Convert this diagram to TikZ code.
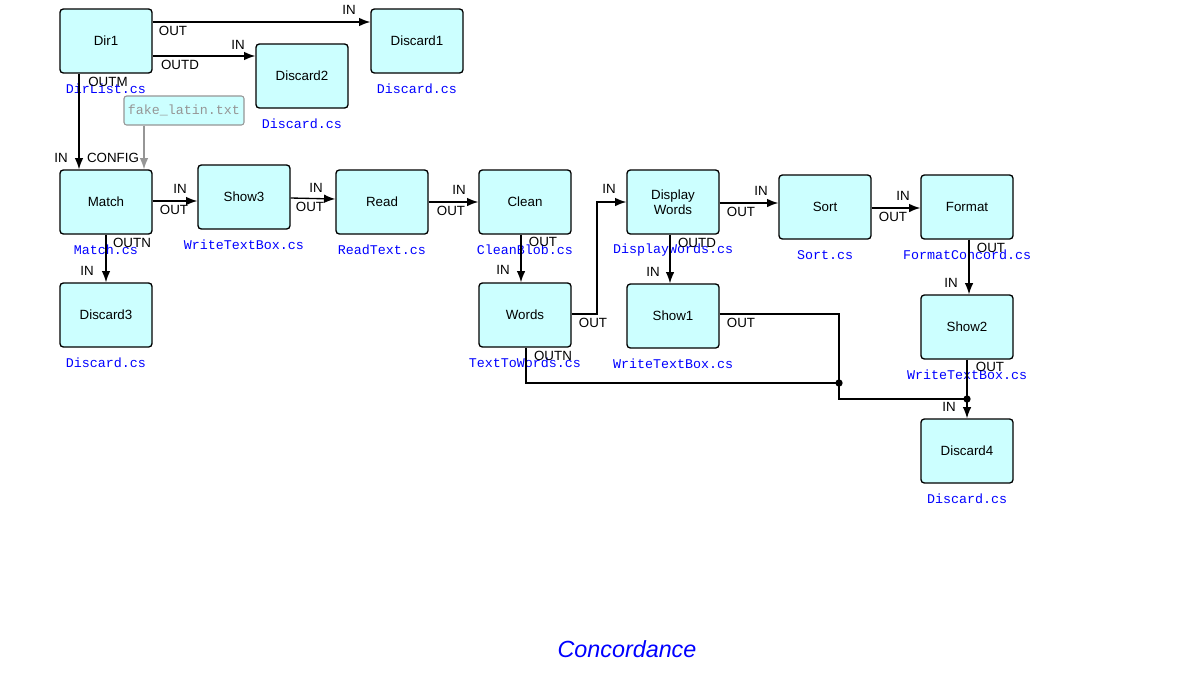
\documentclass[tikz,border=0pt]{standalone}
\usepackage{fontspec}
\setmainfont{Liberation Sans}
\newfontfamily\monofont{Liberation Mono}
\usetikzlibrary{arrows.meta}
\definecolor{boxfill}{RGB}{204,255,255}
\definecolor{fakegray}{RGB}{150,150,150}
\definecolor{labblue}{RGB}{0,0,255}
\tikzset{
  blk/.style={draw=black, line width=1pt, fill=boxfill, rounded corners=2.5pt,
    minimum width=69pt, minimum height=48pt, inner sep=1pt, align=center,
    font=\fontsize{10}{11}\selectfont},
  filebox/.style={draw=fakegray, line width=0.8pt, fill=boxfill, rounded corners=2pt,
    minimum width=90pt, minimum height=21.75pt, inner sep=1pt,
    text=fakegray, font=\monofont\fontsize{10}{11}\selectfont},
  cslab/.style={text=labblue, font=\monofont\fontsize{10}{11}\selectfont, inner sep=0pt},
  port/.style={font=\fontsize{10}{11}\selectfont, inner sep=0pt},
  conn/.style={draw=black, line width=1pt, -{Latex[length=8.5pt,width=6.5pt]}},
  plain/.style={draw=black, line width=1pt},
  jdot/.style={fill=black, circle, inner sep=0pt, minimum size=5.5pt},
}
\begin{document}
\begin{tikzpicture}[x=0.75pt,y=-0.75pt]
\useasboundingbox[fill=white] (0,0) rectangle (1198,678);

% blocks
\node[blk] (dir1) at (106,41) {Dir1};
\node[blk] (disc1) at (417,41) {Discard1};
\node[blk] (disc2) at (302,76) {Discard2};
\node[filebox] (fake) at (184,110.5) {fake\_latin.txt};
\node[blk] (match) at (106,202) {Match};
\node[blk] (show3) at (244,197) {Show3};
\node[blk] (read) at (382,202) {Read};
\node[blk] (clean) at (525,202) {Clean};
\node[blk] (dispw) at (673,202) {Display\\Words};
\node[blk] (sort) at (825,207) {Sort};
\node[blk] (format) at (967,207) {Format};
\node[blk] (words) at (525,315) {Words};
\node[blk] (show1) at (673,316) {Show1};
\node[blk] (show2) at (967,327) {Show2};
\node[blk] (disc3) at (106,315) {Discard3};
\node[blk] (disc4) at (967,451) {Discard4};

% component file labels
\node[cslab] (ldir1) at (106,89) {DirList.cs};
\node[cslab] (ldisc1) at (417,89) {Discard.cs};
\node[cslab] (ldisc2) at (302,124) {Discard.cs};
\node[cslab] (lmatch) at (106,250) {Match.cs};
\node[cslab] (lshow3) at (244,245) {WriteTextBox.cs};
\node[cslab] (lread) at (382,250) {ReadText.cs};
\node[cslab] (lclean) at (525,250) {CleanBlob.cs};
\node[cslab] (ldispw) at (673,250) {DisplayWords.cs};
\node[cslab] (lsort) at (825,255) {Sort.cs};
\node[cslab] (lformat) at (967,255) {FormatConcord.cs};
\node[cslab] (lwords) at (525,363) {TextToWords.cs};
\node[cslab] (lshow1) at (673,364) {WriteTextBox.cs};
\node[cslab] (lshow2) at (967,375) {WriteTextBox.cs};
\node[cslab] (ldisc3) at (106,363) {Discard.cs};
\node[cslab] (ldisc4) at (967,499) {Discard.cs};

% junctions
\coordinate (j1) at (839,383);
\coordinate (j2) at (967,399);

% connectors
\draw[conn] (dir1.east |- 0,22) -- (disc1.west |- 0,22);
\draw[conn] (dir1.east |- 0,56) -- (disc2.west |- 0,56);
\draw[conn] (dir1.south -| 79,0) -- (match.north -| 79,0);
\draw[conn, draw=fakegray, fill=fakegray] (fake.south -| 144,0) -- (match.north -| 144,0);
\draw[conn] (match.east |- 0,201) -- (show3.west |- 0,201);
\draw[conn] (show3.east |- 0,198) -- (read.west |- 0,199);
\draw[conn] (read.east |- 0,202) -- (clean.west |- 0,202);
\draw[conn] (clean.south -| 521,0) -- (words.north -| 521,0);
\draw[conn] (words.east |- 0,314) -- (597,314) -- (597,202) -- (dispw.west |- 0,202);
\draw[conn] (dispw.east |- 0,203) -- (sort.west |- 0,203);
\draw[conn] (dispw.south -| 670,0) -- (show1.north -| 670,0);
\draw[conn] (sort.east |- 0,208) -- (format.west |- 0,208);
\draw[conn] (format.south -| 969,0) -- (show2.north -| 969,0);
\draw[conn] (show2.south -| 967,0) -- (disc4.north -| 967,0);
\draw[conn] (match.south -| 106,0) -- (disc3.north -| 106,0);
\draw[plain] (show1.east |- 0,314) -- (839,314) -- (839,399) -- (j2);
\draw[plain] (words.south -| 526,0) -- (526,383) -- (j1);
\node[jdot] (dj1) at (j1) {};
\node[jdot] (dj2) at (j2) {};

% port labels
\node[port] (p1) at (349,10) {IN};
\node[port] (p2) at (173,31) {OUT};
\node[port] (p3) at (238,45) {IN};
\node[port] (p4) at (180,65) {OUTD};
\node[port] (p5) at (108,82) {OUTM};
\node[port] (p6) at (61,158) {IN};
\node[port] (p7) at (113,158) {CONFIG};
\node[port] (p8) at (180,189) {IN};
\node[port] (p9) at (174,210) {OUT};
\node[port] (p10) at (316,188) {IN};
\node[port] (p11) at (310,207) {OUT};
\node[port] (p12) at (132,243) {OUTN};
\node[port] (p13) at (87,271) {IN};
\node[port] (p14) at (459,190) {IN};
\node[port] (p15) at (451,211) {OUT};
\node[port] (p16) at (543,242) {OUT};
\node[port] (p17) at (503,270) {IN};
\node[port] (p18) at (609,189) {IN};
\node[port] (p19) at (593,323) {OUT};
\node[port] (p20) at (553,356) {OUTN};
\node[port] (p21) at (761,191) {IN};
\node[port] (p22) at (741,212) {OUT};
\node[port] (p23) at (697,243) {OUTD};
\node[port] (p24) at (653,272) {IN};
\node[port] (p25) at (741,323) {OUT};
\node[port] (p26) at (903,196) {IN};
\node[port] (p27) at (893,217) {OUT};
\node[port] (p28) at (991,248) {OUT};
\node[port] (p29) at (951,283) {IN};
\node[port] (p30) at (990,367) {OUT};
\node[port] (p31) at (949,407) {IN};

% title
\node[text=labblue, font=\itshape\fontsize{17.5}{20}\selectfont, inner sep=0pt] (title) at (627,649) {Concordance};
\end{tikzpicture}
\end{document}
